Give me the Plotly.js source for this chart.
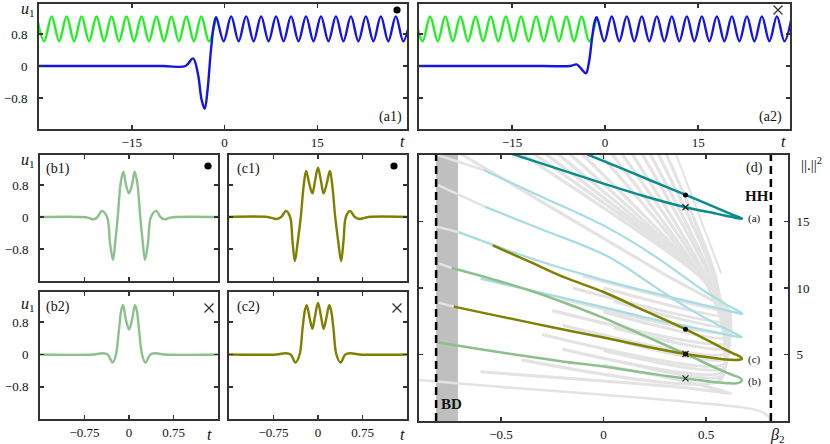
<!DOCTYPE html>
<html><head><meta charset="utf-8">
<script src="https://cdn.plot.ly/plotly-3.0.1.min.js"></script>
<style>html,body{margin:0;padding:0;background:#fff;}#chart{width:830px;height:444px;}</style>
</head><body><div id="chart"></div>
<script>
// ---------------- data ----------------
// (a1) green periodic state before the front
const a1GreenT = [-30.37,-29.16,-27.95,-26.74,-25.53,-24.32,-23.11,-21.90,-20.69,-19.48,-18.27,-17.06,-15.85,-14.64,-13.43,-12.22,-11.01,-9.80,-8.59,-7.38,-6.17,-4.96,-3.75,-2.54,-1.33];
const a1GreenU = [1.24,0.62,1.24,0.62,1.24,0.62,1.24,0.62,1.24,0.62,1.24,0.62,1.24,0.62,1.24,0.62,1.24,0.62,1.24,0.62,1.24,0.62,1.24,0.62,1.24];
// (a1) blue transient
const a1BlueT = [-30,-10,-6.3,-5.1,-4.3,-3.7,-3.2,-2.75,-2.2,-1.7,-1.35];
const a1BlueU = [0,0,0.0,0.19,-0.2,-0.85,-1.07,-0.6,0.4,1.05,1.22];
// (a2) green and blue transient
const a2GreenT = [-30.64,-29.42,-28.20,-26.98,-25.76,-24.54,-23.32,-22.10,-20.88,-19.66,-18.44,-17.22,-16.00,-14.78,-13.55,-12.33,-11.11,-9.89,-8.67,-7.45,-6.23,-5.01,-3.79,-2.57,-1.35];
const a2GreenU = [1.24,0.62,1.24,0.62,1.24,0.62,1.24,0.62,1.24,0.62,1.24,0.62,1.24,0.62,1.24,0.62,1.24,0.62,1.24,0.62,1.24,0.62,1.24,0.62,1.24];
const a2BlueT = [-30,-10,-5.6,-4.6,-3.9,-3.1,-2.6,-2.1,-1.7,-1.35];
const a2BlueU = [0,0,0.0,0.04,-0.06,-0.18,0.1,0.7,1.1,1.22];
// blue periodic tail (both a-panels)
const blueTailT = [-0.14,1.07,2.28,3.49,4.70,5.91,7.12,8.33,9.54,10.75,11.96,13.17,14.38,15.59,16.80,18.01,19.22,20.43,21.64,22.85,24.06,25.27,26.48,27.69,28.90,30.11];
const blueTailU = [0.62,1.24,0.62,1.24,0.62,1.24,0.62,1.24,0.62,1.24,0.62,1.24,0.62,1.24,0.62,1.24,0.62,1.24,0.62,1.24,0.62,1.24,0.62,1.24,0.62,1.24];
// (b1),(c1),(b2),(c2) localized states
const b1T = [-1.5,-0.8,-0.68,-0.6,-0.53,-0.46,-0.37,-0.32,-0.27,-0.23,-0.19,-0.14,-0.095,-0.05,0,0.05,0.095,0.14,0.19,0.23,0.27,0.32,0.37,0.46,0.53,0.6,0.68,0.8,1.5];
const b1U = [0,0,-0.02,-0.06,0.0,0.15,0.0,-0.65,-1.07,-0.6,0.0,0.85,1.13,0.8,0.59,0.8,1.13,0.85,0.0,-0.6,-1.07,-0.65,0.0,0.15,0.0,-0.06,-0.02,0,0];
const c1T = [-1.5,-0.85,-0.7,-0.62,-0.54,-0.47,-0.43,-0.39,-0.34,-0.29,-0.24,-0.2,-0.15,-0.095,-0.05,0,0.05,0.095,0.15,0.2,0.24,0.29,0.34,0.39,0.43,0.47,0.54,0.62,0.7,0.85,1.5];
const c1U = [0,0,-0.05,0.0,0.15,0.0,-0.6,-1.1,-0.6,0.0,0.8,1.15,0.85,0.59,0.9,1.23,0.9,0.59,0.85,1.15,0.8,0.0,-0.6,-1.1,-0.6,0.0,0.15,0.0,-0.05,0,0];
const b2T = [-1.5,-0.6,-0.44,-0.36,-0.275,-0.22,-0.17,-0.13,-0.1,-0.05,0,0.05,0.1,0.13,0.17,0.22,0.275,0.36,0.44,0.6,1.5];
const b2U = [0,0,0.03,0.0,-0.2,0.0,0.6,1.1,1.22,0.85,0.62,0.85,1.22,1.1,0.6,0.0,-0.2,0.0,0.03,0,0];
const c2T = [-1.5,-0.7,-0.55,-0.46,-0.38,-0.31,-0.26,-0.22,-0.19,-0.14,-0.095,-0.05,0,0.05,0.095,0.14,0.19,0.22,0.26,0.31,0.38,0.46,0.55,0.7,1.5];
const c2U = [0,0,0.03,0.0,-0.2,0.0,0.65,1.1,1.22,0.9,0.64,0.95,1.28,0.95,0.64,0.9,1.22,1.1,0.65,0.0,-0.2,0.0,0.03,0,0];
// (d) bifurcation diagram branches (beta_2, ||.||^2)
const tealB = [-0.45,-0.3,-0.15,0.0,0.2,0.4,0.55,0.63,0.665,0.676,0.665,0.62,0.5,0.3,0.1,-0.08];
const tealY = [20.1,19.35,18.6,17.85,16.9,16.07,15.59,15.33,15.23,15.22,15.3,15.58,16.36,17.64,18.92,20.05];
const lbAB = [-0.585,-0.3,0.024,0.25,0.484,0.6,0.66,0.678,0.66,0.6,0.4,0.2,0.024,-0.3,-0.707];
const lbAY = [18.87,16.85,14.5,12.4,9.85,8.75,8.25,8.05,8.1,8.32,9.05,9.8,10.5,11.95,14.2];
const lbBB = [-0.577,-0.3,0.024,0.24,0.4,0.55,0.64,0.676,0.66,0.6,0.4,0.2,0.024,-0.25,-0.6];
const lbBY = [16.1,14.4,12.35,10.2,8.6,7.3,6.6,6.3,6.33,6.5,7.15,7.8,8.47,9.45,10.7];
const greenB = [-0.805,-0.6,-0.4,-0.2,0.024,0.2,0.4,0.55,0.62,0.66,0.676,0.665,0.63,0.55,0.4,0.2,0.0,-0.2,-0.366,-0.55,-0.74];
const greenY = [5.9,5.4,4.92,4.48,4.04,3.62,3.2,2.92,2.83,2.87,3.05,3.25,3.46,3.98,5.04,6.4,7.75,8.95,9.85,10.7,11.5];
const oliveB = [-0.73,-0.5,-0.25,0.0,0.2,0.4,0.55,0.62,0.66,0.676,0.665,0.631,0.55,0.4,0.2,0.0,-0.19,-0.35,-0.54];
const oliveY = [8.6,7.85,7.05,6.28,5.62,5.04,4.72,4.6,4.6,4.68,4.85,5.09,5.72,6.9,8.3,9.7,10.8,11.9,13.2];
// grey branches: fan of folds (top -> convergence -> fold tip -> back to the left)
const fanTopB = [-0.72,-0.42,-0.36,-0.30,-0.24,-0.18,-0.12,-0.03,0.03,0.08,0.13,0.18,0.22,0.26,0.30];
const fanTopY = [20.3,20.3,20.3,20.3,20.3,20.3,20.3,20.3,20.3,20.3,20.3,20.3,20.3,20.3,20.3];
const fanMidB = [0.30,0.46,0.48,0.49,0.50,0.51,0.52,0.52,0.52,0.53,0.53,0.54,0.54,0.55,0.55];
const fanMidY = [11.0,11.0,10.8,10.6,10.4,10.2,10.0,9.9,9.8,9.8,9.9,10.0,10.2,10.4,10.6];
const fanTipB = [0.61,0.62,0.62,0.62,0.62,0.62,0.61,0.61,0.60,0.60,0.59,0.59,0.58,0.58,0.57];
const fanTipY = [8.3,7.9,7.5,7.1,6.7,6.3,5.9,5.5,5.1,4.7,4.3,4.0,3.7,3.4,3.1];
const fanEndB = [-0.1,0.0,-0.15,0.05,-0.2,0.0,-0.25,0.05,-0.2,0.1,-0.3,0.0,-0.2,0.1,-0.4];
const fanEndY = [10.9,10.0,10.0,9.0,9.2,8.2,8.3,7.0,7.2,5.9,6.5,5.3,5.4,4.4,4.6];
// grey continuations at the left edge
const extB0 = [-0.81,-0.81,-0.813,-0.805,-0.805];
const extY0 = [20.0,17.75,14.6,11.85,8.9];
const extB1 = [-0.585,-0.577,-0.707,-0.74,-0.73];
const extY1 = [18.87,16.1,14.2,11.5,8.6];
// lowest grey branch and thin steep grey branch
const lowB = [-0.9,-0.45,0.0,0.4,0.71,0.77,0.8,0.815];
const lowY = [3.08,2.5,1.97,1.45,0.95,0.7,0.4,0.05];
const low2B = [-0.6,0.0,0.4,0.623,0.5,0.3,0.0];
const low2Y = [3.7,3.0,2.5,2.08,2.6,3.3,4.2];
const thinB = [0.355,0.574];
const thinY = [20.0,11.1];
// markers in (d)
const dotB = [0.4,0.4,0.4];
const dotY = [17.0,6.9,5.04];
const crossB = [0.4,0.4,0.4];
const crossY = [16.07,5.04,3.2];
const boundaryB = [-0.8165,0.8165];
const bdBand = [-0.8165,-0.71];

// ---------------- drawing ----------------
const W = 830, H = 444;
const FF = 'Liberation Serif, Times New Roman, serif';
const dX = (a,b)=>[a/W,b/W];
const dY = (t,b)=>[1-b/H,1-t/H];
const GREEN='#1ff01f', BLUE='#1414e6', LGREEN='#8cc08c', OLIVE='#808000', TEAL='#0a8c8c', LBLUE='#a8dce3', GREY='#e3e3e3';

function ax(extra){
  return Object.assign({showline:true,linewidth:2,linecolor:'#333',mirror:'ticks',ticks:'inside',ticklen:4,tickwidth:1.5,tickcolor:'#333',
    showgrid:false,zeroline:false,tickfont:{family:FF,size:13,color:'#111'},fixedrange:true},extra);
}
const traces = [];
function ln(x,y,xa,ya,color,width,shape,sm){
  traces.push({x:x,y:y,xaxis:xa,yaxis:ya,mode:'lines',line:{color:color,width:width,shape:shape||'linear',smoothing:sm||1},hoverinfo:'skip',showlegend:false});
}
// a1
ln(a1GreenT,a1GreenU,'x','y',GREEN,2.4,'spline');
ln(a1BlueT.concat(blueTailT),a1BlueU.concat(blueTailU),'x','y',BLUE,2.4,'spline');
// a2
ln(a2GreenT,a2GreenU,'x2','y2',GREEN,2.4,'spline');
ln(a2BlueT.concat(blueTailT),a2BlueU.concat(blueTailU),'x2','y2',BLUE,2.4,'spline');
// b,c
ln(b1T,b1U,'x3','y3',LGREEN,2.4,'spline');
ln(c1T,c1U,'x4','y4',OLIVE,2.4,'spline');
ln(b2T,b2U,'x5','y5',LGREEN,2.4,'spline');
ln(c2T,c2U,'x6','y6',OLIVE,2.4,'spline');
// d grey
for(let i=0;i<fanTopB.length;i++){
  ln([fanTopB[i],fanMidB[i],fanTipB[i],fanEndB[i]],[fanTopY[i],fanMidY[i],fanTipY[i],fanEndY[i]],'x7','y7',GREY,3.2,'spline',0.6);
}
for(let i=0;i<extB0.length;i++){
  ln([extB0[i],extB1[i]],[extY0[i],extY1[i]],'x7','y7',GREY,2.5);
}
ln(lowB,lowY,'x7','y7',GREY,2.5,'spline');
ln(low2B,low2Y,'x7','y7',GREY,3,'spline',0.6);
ln(thinB,thinY,'x7','y7',GREY,2);
// d coloured
ln(lbAB,lbAY,'x7','y7',LBLUE,2.2,'spline');
ln(lbBB,lbBY,'x7','y7',LBLUE,2.2,'spline');
ln(greenB,greenY,'x7','y7',LGREEN,2.5,'spline');
ln(oliveB,oliveY,'x7','y7',OLIVE,2.5,'spline');
ln(tealB,tealY,'x7','y7',TEAL,2.5,'spline');
traces.push({x:dotB,y:dotY,xaxis:'x7',yaxis:'y7',mode:'markers',marker:{color:'#000',size:5},hoverinfo:'skip',showlegend:false});
traces.push({x:crossB,y:crossY,xaxis:'x7',yaxis:'y7',mode:'markers',marker:{symbol:'x-thin',color:'#000',size:6,line:{color:'#222',width:1.2}},hoverinfo:'skip',showlegend:false});

const P = (x,y)=>({x:x/W,y:1-y/H,xref:'paper',yref:'paper'});
function txt(x,y,text,size,extra){
  return Object.assign(P(x,y),{text:text,showarrow:false,font:{family:FF,size:size,color:'#111'},xanchor:'center',yanchor:'middle'},extra||{});
}
const ann = [
  txt(28,10,'<i>u</i><sub>1</sub>',16), txt(28,161,'<i>u</i><sub>1</sub>',16), txt(28,304,'<i>u</i><sub>1</sub>',16),
  txt(402,141,'<i>t</i>',16), txt(783,141,'<i>t</i>',16), txt(209,434,'<i>t</i>',16), txt(402,434,'<i>t</i>',16),
  txt(777,435,'<i>β</i><sub>2</sub>',16), txt(811,164,'||.||<sup>2</sup>',15),
  txt(390,117,'(a1)',14), txt(770,117,'(a2)',14), txt(58,169,'(b1)',14), txt(248,169,'(c1)',14),
  txt(58,307,'(b2)',14), txt(248,307,'(c2)',14), txt(754,168,'(d)',14),
  {x:0.75,y:16.9,xref:'x7',yref:'y7',text:'<b>HH</b>',showarrow:false,font:{family:FF,size:15,color:'#111'}},
  {x:-0.74,y:1.3,xref:'x7',yref:'y7',text:'<b>BD</b>',showarrow:false,font:{family:FF,size:15,color:'#111'}},
  {x:0.695,y:15.2,xref:'x7',yref:'y7',text:'(a)',xanchor:'left',showarrow:false,font:{family:FF,size:11,color:'#111'}},
  {x:0.695,y:4.6,xref:'x7',yref:'y7',text:'(c)',xanchor:'left',showarrow:false,font:{family:FF,size:11,color:'#111'}},
  {x:0.695,y:2.95,xref:'x7',yref:'y7',text:'(b)',xanchor:'left',showarrow:false,font:{family:FF,size:11,color:'#111'}}
];
// panel symbols: filled dot (stable) and cross (unstable), pixel centres
const dotPx = [[397,10],[208,166],[394,166]];
const crossPx = [[778,10],[209,308],[397,308]];
const shapes = [
  {type:'rect',xref:'x7',yref:'y7',x0:bdBand[0],x1:bdBand[1],y0:0,y1:20,fillcolor:'#bfbfbf',line:{width:0},layer:'below'},
  {type:'line',xref:'x7',yref:'y7',x0:boundaryB[0],x1:boundaryB[0],y0:0,y1:20,line:{color:'#000',width:2.5,dash:'8px,5px'},layer:'above'},
  {type:'line',xref:'x7',yref:'y7',x0:boundaryB[1],x1:boundaryB[1],y0:0,y1:20,line:{color:'#000',width:2.5,dash:'8px,5px'},layer:'above'}
];
dotPx.forEach(([cx,cy])=>{
  shapes.push({type:'circle',xref:'paper',yref:'paper',x0:(cx-3.6)/W,x1:(cx+3.6)/W,y0:1-(cy+3.6)/H,y1:1-(cy-3.6)/H,fillcolor:'#000',line:{width:0},layer:'above'});
});
crossPx.forEach(([cx,cy])=>{
  const r=4.5;
  shapes.push({type:'line',xref:'paper',yref:'paper',x0:(cx-r)/W,x1:(cx+r)/W,y0:1-(cy-r)/H,y1:1-(cy+r)/H,line:{color:'#333',width:1.2},layer:'above'});
  shapes.push({type:'line',xref:'paper',yref:'paper',x0:(cx-r)/W,x1:(cx+r)/W,y0:1-(cy+r)/H,y1:1-(cy-r)/H,line:{color:'#333',width:1.2},layer:'above'});
});
const uTicks = {tickvals:[-0.8,0,0.8],ticktext:['−0.8','0','0.8']};
const layout = {
  width:W,height:H,margin:{l:0,r:0,t:0,b:0},paper_bgcolor:'#fff',plot_bgcolor:'#fff',showlegend:false,
  xaxis: ax({domain:dX(39,407),range:[-30,29.5],tickvals:[-15,0,15],anchor:'y',ticklabelstandoff:0}),
  yaxis: ax({domain:dY(4,129),range:[-1.575,1.55],tickvals:uTicks.tickvals,ticktext:uTicks.ticktext,anchor:'x',ticklabelstandoff:7}),
  xaxis2: ax({domain:dX(419,790),range:[-30,29.8],tickvals:[-15,0,15],anchor:'y2',ticklabelstandoff:0}),
  yaxis2: ax({domain:dY(4,129),range:[-1.575,1.55],tickvals:uTicks.tickvals,showticklabels:false,anchor:'x2'}),
  xaxis3: ax({domain:dX(40,218),range:[-1.5,1.5],tickvals:[-0.75,0,0.75],showticklabels:false,anchor:'y3'}),
  yaxis3: ax({domain:dY(155,281),range:[-1.6,1.55],tickvals:uTicks.tickvals,ticktext:uTicks.ticktext,anchor:'x3',ticklabelstandoff:7}),
  xaxis4: ax({domain:dX(229,407),range:[-1.5,1.5],tickvals:[-0.75,0,0.75],showticklabels:false,anchor:'y4'}),
  yaxis4: ax({domain:dY(155,281),range:[-1.6,1.55],tickvals:uTicks.tickvals,showticklabels:false,anchor:'x4'}),
  xaxis5: ax({domain:dX(40,218),range:[-1.5,1.5],tickvals:[-0.75,0,0.75],ticktext:['−0.75','0','0.75'],anchor:'y5',ticklabelstandoff:0}),
  yaxis5: ax({domain:dY(292,419),range:[-1.6,1.55],tickvals:uTicks.tickvals,ticktext:uTicks.ticktext,anchor:'x5',ticklabelstandoff:7}),
  xaxis6: ax({domain:dX(229,407),range:[-1.5,1.5],tickvals:[-0.75,0,0.75],ticktext:['−0.75','0','0.75'],anchor:'y6',ticklabelstandoff:0}),
  yaxis6: ax({domain:dY(292,419),range:[-1.6,1.55],tickvals:uTicks.tickvals,showticklabels:false,anchor:'x6'}),
  xaxis7: ax({domain:dX(419,788),range:[-0.9,0.9],tickvals:[-0.5,0,0.5],ticktext:['−0.5','0','0.5'],anchor:'y7',ticklabelstandoff:0}),
  yaxis7: ax({domain:dY(155,421),range:[0,20],tickvals:[5,10,15],side:'right',anchor:'x7',ticklabelstandoff:4}),
  annotations:ann, shapes:shapes
};
Plotly.newPlot('chart',traces,layout,{staticPlot:true,displayModeBar:false});
</script></body></html>
